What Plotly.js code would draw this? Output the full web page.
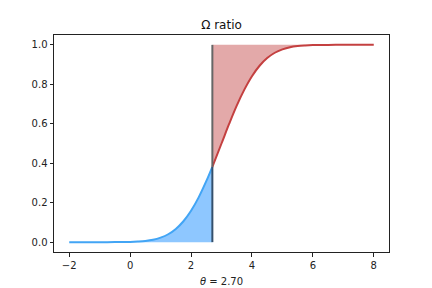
<!DOCTYPE html>
<html><head><meta charset="utf-8">
<script src="https://cdn.plot.ly/plotly-3.0.1.min.js"></script>
<style>body{margin:0;background:#fff}#c{width:432px;height:288px}</style>
</head><body><div id="c"></div>
<script>
// values
const theta = 2.70;
const lowX = [-2, -1.5, -1, -0.5, 0, 0.25, 0.5, 0.75, 1, 1.25, 1.5, 1.75, 2, 2.25, 2.5, 2.7];
const lowY = [0, 0, 0, 0.0002, 0.0013, 0.003, 0.006, 0.012, 0.023, 0.040, 0.067, 0.106, 0.159, 0.227, 0.309, 0.382];
const highX = [2.7, 3, 3.25, 3.5, 3.75, 4, 4.25, 4.5, 4.75, 5, 5.25, 5.5, 5.75, 6, 6.5, 7, 7.5, 8];
const highY = [0.382, 0.5, 0.599, 0.692, 0.773, 0.841, 0.894, 0.933, 0.960, 0.977, 0.988, 0.994, 0.997, 0.9987, 0.9998, 1, 1, 1];
const topY = highX.map(() => 1);

const traces = [
  {x: lowX, y: lowY, mode: 'lines', line: {color: '#42a5f5', width: 2, shape: 'spline'},
   fill: 'tozeroy', fillcolor: 'rgba(30,144,255,0.5)', hoverinfo: 'skip'},
  {x: highX, y: topY, mode: 'lines', line: {color: 'rgba(0,0,0,0)', width: 0}, hoverinfo: 'skip'},
  {x: highX, y: highY, mode: 'lines', line: {color: '#c44040', width: 2, shape: 'spline'},
   fill: 'tonexty', fillcolor: 'rgba(192,64,64,0.45)', hoverinfo: 'skip'},
  {x: [theta, theta], y: [0, lowY[lowY.length-1]], mode: 'lines', line: {color: '#34506c', width: 2}, hoverinfo: 'skip'},
  {x: [theta, theta], y: [highY[0], 1], mode: 'lines', line: {color: '#666666', width: 2}, hoverinfo: 'skip'}
];

const axisCommon = {
  showgrid: false, zeroline: false, showline: true, mirror: true,
  linecolor: '#222', linewidth: 1, ticks: 'outside', ticklen: 3.5, tickwidth: 1,
  tickcolor: '#222', tickfont: {family: 'DejaVu Sans', size: 10, color: '#222'}
};

const layout = {
  width: 432, height: 288,
  margin: {l: 54, r: 43, t: 35, b: 36},
  paper_bgcolor: '#fff', plot_bgcolor: '#fff',
  showlegend: false,
  title: {text: 'Ω ratio', font: {family: 'DejaVu Sans', size: 12, color: '#111'}, x: 0.5, xanchor: 'center', y: 0.915, yanchor: 'middle', xref: 'paper'},
  xaxis: Object.assign({}, axisCommon, {range: [-2.5, 8.5], tickvals: [-2, 0, 2, 4, 6, 8], ticktext: ['−2', '0', '2', '4', '6', '8'],
    title: {text: '<i>θ</i> = ' + theta.toFixed(2), font: {family: 'DejaVu Sans', size: 10, color: '#222'}, standoff: 8}}),
  yaxis: Object.assign({}, axisCommon, {range: [-0.05, 1.05], tickvals: [0, 0.2, 0.4, 0.6, 0.8, 1.0], tickformat: '.1f'})
};

Plotly.newPlot('c', traces, layout, {staticPlot: true, displayModeBar: false});
</script></body></html>
